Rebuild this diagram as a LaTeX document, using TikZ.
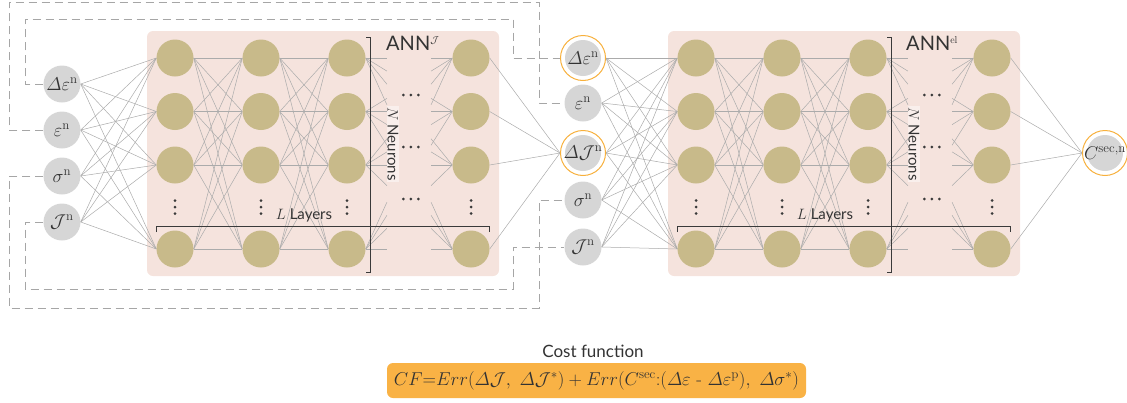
\RequirePackage{fix-cm}
\documentclass[tikz,border=0pt]{standalone}
\usepackage{amsmath}
\usepackage{fontspec}
\newfontfamily\lato{Lato}
\usetikzlibrary{calc}

\definecolor{neuroncol}{HTML}{C8BA8A}
\definecolor{boxpink}{HTML}{F5E3DD}
\definecolor{ingray}{HTML}{D6D6D6}
\definecolor{wiregray}{HTML}{ABABAB}
\definecolor{fbgray}{HTML}{A6A6A6}
\definecolor{ringorange}{HTML}{F7B03C}
\definecolor{costorange}{HTML}{F9B245}
\definecolor{brkgray}{HTML}{3A3A3A}
\definecolor{txtgray}{HTML}{333333}

\pgfdeclarelayer{bg}
\pgfdeclarelayer{wires}
\pgfsetlayers{bg,wires,main}

\begin{document}
\begin{tikzpicture}[x=1pt,y=-1pt,
  neuron/.style={circle, fill=neuroncol, minimum size=37pt, inner sep=0pt},
  invar/.style={circle, fill=ingray, minimum size=37pt, inner sep=0pt,
    text=txtgray, font=\fontsize{18.5}{22}\selectfont},
  ringed/.style={circle, draw=ringorange, line width=1pt, minimum size=45pt,
    inner sep=0pt, text=txtgray, font=\fontsize{18.5}{22}\selectfont,
    path picture={\fill[ingray] (path picture bounding box.center) circle (18pt);}},
  wire/.style={draw=wiregray, line width=0.5pt},
  fb/.style={draw=fbgray, line width=1pt, dash pattern=on 8pt off 5pt},
  brk/.style={draw=brkgray, line width=1pt},
  annbox/.style={fill=boxpink, rounded corners=6pt},
  dotmark/.style={fill=brkgray},
  lbl/.style={font=\lato\fontsize{15}{18}\selectfont, text=txtgray, inner sep=1pt},
  vlbl/.style={lbl, rotate=-90, fill=white, fill opacity=0.45, text opacity=1},
  annlbl/.style={font=\lato\fontsize{20}{24}\selectfont, text=txtgray, inner sep=0pt},
  costbox/.style={fill=costorange, rounded corners=6pt, minimum width=419pt,
    minimum height=35pt, inner sep=0pt, font=\fontsize{18.6}{22}\selectfont, text=txtgray}
]
\useasboundingbox (0,0) rectangle (1127,402);

% network boxes
\begin{pgfonlayer}{bg}
\foreach \dx in {0,521}{
  \fill[annbox] (147+\dx,31) rectangle (499+\dx,276);
}
\end{pgfonlayer}

% neurons of both networks (columns 1-3 hidden, column 4 output)
\foreach \p/\dx in {L/0,R/521}{
  \foreach \c/\x in {1/175,2/261,3/347,4/471}{
    \foreach \r/\y in {1/58,2/111.5,3/165,4/249}{
      \node[neuron] (\p\c\r) at (\x+\dx,\y) {};
    }
  }
}

% input variables of the first network
\node[invar] (iA) at (62,84)  {$\varDelta\varepsilon^{\mathrm{n}}$};
\node[invar] (iB) at (62,130) {$\varepsilon^{\mathrm{n}}$};
\node[invar] (iC) at (62,176) {$\sigma^{\mathrm{n}}$};
\node[invar] (iD) at (62,222) {$\mathcal{J}^{\mathrm{n}}$};

% input variables of the second network
\node[ringed] (m1) at (583,58)  {$\varDelta\varepsilon^{\mathrm{n}}$};
\node[invar]  (m2) at (583,103) {$\varepsilon^{\mathrm{n}}$};
\node[ringed] (m3) at (583,153) {$\varDelta\mathcal{J}^{\mathrm{n}}$};
\node[invar]  (m4) at (583,200) {$\sigma^{\mathrm{n}}$};
\node[invar]  (m5) at (583,247) {$\mathcal{J}^{\mathrm{n}}$};

% output of the second network
\node[ringed] (cs) at (1105,153) {$C^{\mathrm{sec,n}}$};

% weights
\begin{pgfonlayer}{wires}
\foreach \p in {L,R}{
  \foreach \c/\n in {1/2,2/3}{
    \foreach \a in {1,...,4}{
      \foreach \b in {1,...,4}{
        \draw[wire] (\p\c\a.east) -- (\p\n\b.west);
      }
    }
  }
  \foreach \a in {1,...,4}{
    \foreach \b in {1,...,4}{
      \draw[wire] (\p3\a.east) -- ($(\p3\a.east)!0.245!(\p4\b.west)$);
      \draw[wire] ($(\p3\a.east)!0.755!(\p4\b.west)$) -- (\p4\b.west);
    }
  }
}
\foreach \i in {iA,iB,iC,iD}{
  \foreach \b in {1,...,4}{
    \draw[wire] (\i.east) -- (L1\b.west);
  }
}
\foreach \i in {m1,m2,m3,m4,m5}{
  \foreach \b in {1,...,4}{
    \draw[wire] (\i.east) -- (R1\b.west);
  }
}
\foreach \b in {1,...,4}{
  \draw[wire] (L4\b.east) -- (m3.west);
  \draw[wire] (R4\b.east) -- (cs.west);
}
\end{pgfonlayer}

% feedback of the updated state
\coordinate (oTL) at (9,2);
\coordinate (oTR) at (539,2);
\coordinate (iTL) at (25,19);
\coordinate (iTR) at (513,19);
\coordinate (oBL) at (9,308);
\coordinate (oBR) at (539,308);
\coordinate (iBL) at (25,289);
\coordinate (iBR) at (513,289);
\draw[fb] (iB.west) -| (oTL) -- (oTR) |- (m2.west);
\draw[fb] (iA.west) -| (iTL) -- (iTR) |- (m1.west);
\draw[fb] (iC.west) -| (oBL) -- (oBR) |- (m4.west);
\draw[fb] (iD.west) -| (iBL) -- (iBR) |- (m5.west);

% ellipses, brackets and labels
\foreach \p/\dx in {L/0,R/521}{
  \foreach \x in {175,261,347,471}{
    \foreach \y in {200.5,207,213.5}{
      \fill[dotmark] (\x+\dx,\y) circle (1.5);
    }
  }
  \foreach \y in {95,147,199}{
    \foreach \x in {403.3,410.8,418.3}{
      \fill[dotmark] (\x+\dx,\y) circle (1.5);
    }
  }
  \draw[brk] (366+\dx,37) -- (370+\dx,37) -- (370+\dx,272) -- (366+\dx,272);
  \draw[brk] (156+\dx,232) -- (156+\dx,226.5) -- (489+\dx,226.5) -- (489+\dx,232);
  \node[vlbl] (neu\p) at (393+\dx,144) {$N$ Neurons};
  \node[lbl] (lay\p) at (304+\dx,215) {$L$ Layers};
}
\node[annlbl, anchor=base west] (annL) at (386,50.7) {ANN$^{\scriptscriptstyle\mathcal{J}}$};
\node[annlbl, anchor=base west] (annR) at (906,50.7) {ANN$^{\scriptscriptstyle\mathrm{el}}$};

% cost function
\node[lbl, font=\lato\fontsize{17}{20}\selectfont] (cft) at (593,351) {Cost function};
\node[costbox] (cf) at (596.5,380.5)
  {$CF{=}Err(\varDelta\mathcal{J},\ \varDelta\mathcal{J}^{*})
    + Err(C^{\mathrm{sec}}{:}(\varDelta\varepsilon\mbox{ - }\varDelta\varepsilon^{\mathrm{p}}),\ \varDelta\sigma^{*})$};
\end{tikzpicture}
\end{document}
